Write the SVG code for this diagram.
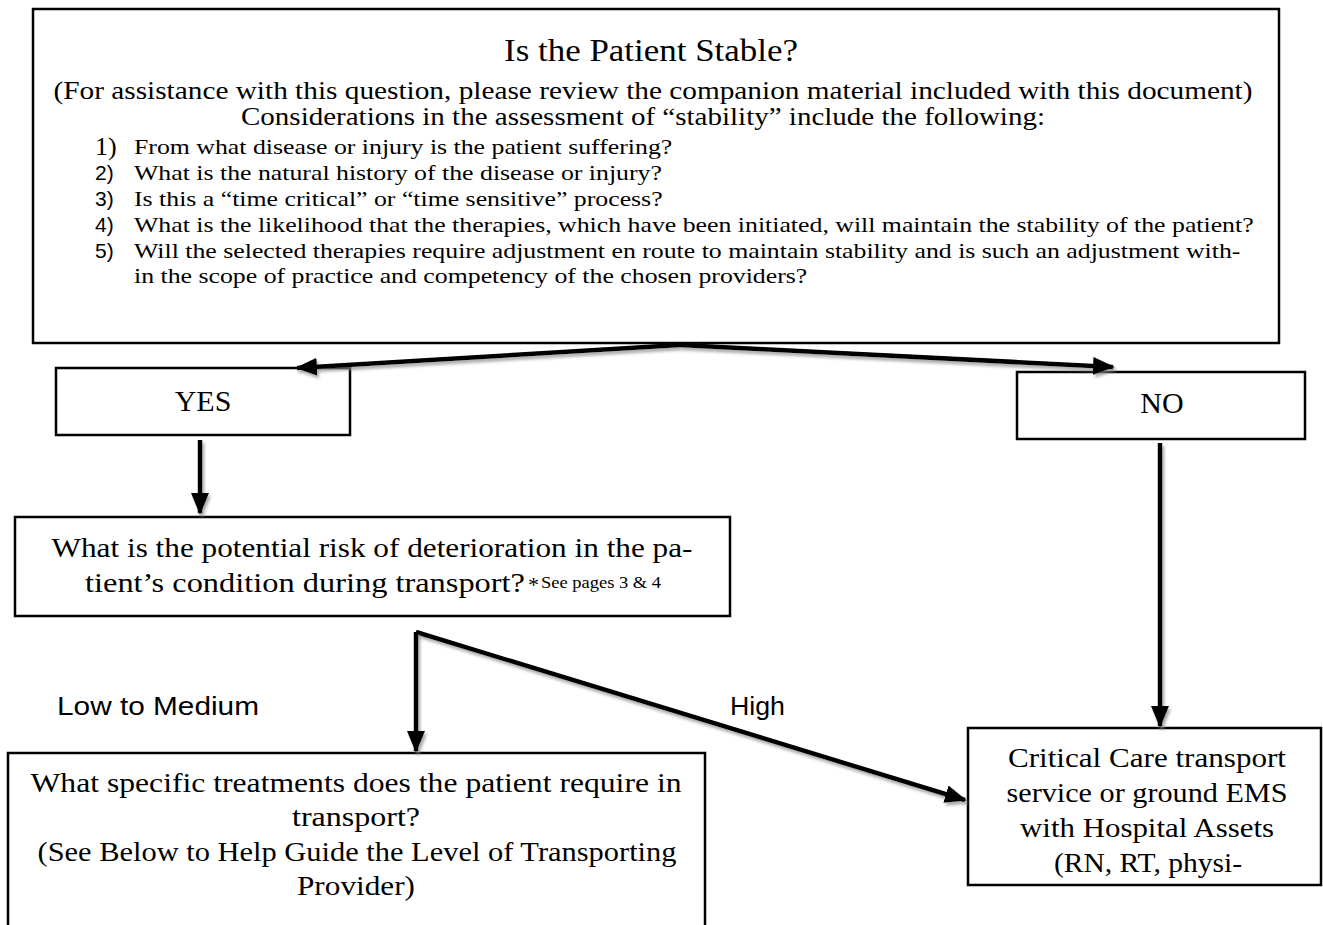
<svg xmlns="http://www.w3.org/2000/svg" width="1323" height="925" viewBox="0 0 1323 925">
<defs>
<style>
.box{fill:#fff;stroke:#000;stroke-width:2.5}
.serif{font-family:"Liberation Serif","DejaVu Serif",serif;fill:#000}
.sans{font-family:"Liberation Sans","DejaVu Sans",sans-serif;fill:#000}
.conn{fill:none;stroke:#000;stroke-width:4.5;filter:url(#sh)}
</style>
<marker id="ah" markerUnits="userSpaceOnUse" markerWidth="22" markerHeight="18" refX="20" refY="9" orient="auto">
<path d="M0,0 L22,9 L0,18 z" fill="#000"/>
</marker>
<filter id="sh" filterUnits="userSpaceOnUse" x="0" y="0" width="1323" height="925">
<feDropShadow dx="2" dy="3" stdDeviation="1.5" flood-color="#888" flood-opacity="0.7"/>
</filter>
</defs>

<g id="node-stable">
<rect class="box" x="33" y="9" width="1246" height="334"/>
<text class="serif" x="651" y="61" font-size="31" text-anchor="middle" textLength="294" lengthAdjust="spacingAndGlyphs">Is the Patient Stable?</text>
<text class="serif" x="653" y="99" font-size="25" text-anchor="middle" textLength="1199" lengthAdjust="spacingAndGlyphs">(For assistance with this question, please review the companion material included with this document)</text>
<text class="serif" x="643" y="125" font-size="25" text-anchor="middle" textLength="804" lengthAdjust="spacingAndGlyphs">Considerations in the assessment of “stability” include the following:</text>
<text class="serif" x="95" y="155" font-size="26">1)</text>
<text class="sans" x="95" y="180" font-size="21">2)</text>
<text class="sans" x="95" y="206" font-size="21">3)</text>
<text class="sans" x="95" y="232" font-size="21">4)</text>
<text class="sans" x="95" y="258" font-size="21">5)</text>
<g transform="translate(134 0) scale(1.173 1)">
<text class="serif" x="0" y="154" font-size="22">From what disease or injury is the patient suffering?</text>
<text class="serif" x="0" y="180" font-size="22">What is the natural history of the disease or injury?</text>
<text class="serif" x="0" y="206" font-size="22">Is this a “time critical” or “time sensitive” process?</text>
<text class="serif" x="0" y="232" font-size="22">What is the likelihood that the therapies, which have been initiated, will maintain the stability of the patient?</text>
<text class="serif" x="0" y="258" font-size="22">Will the selected therapies require adjustment en route to maintain stability and is such an adjustment with-</text>
<text class="serif" x="0" y="283" font-size="22">in the scope of practice and competency of the chosen providers?</text>
</g>
</g>

<g id="node-yes">
<rect class="box" x="56" y="368" width="294" height="67"/>
<text class="serif" x="203" y="411" font-size="30" text-anchor="middle">YES</text>
</g>

<g id="node-no">
<rect class="box" x="1017" y="372" width="288" height="67"/>
<text class="serif" x="1162" y="413" font-size="30" text-anchor="middle">NO</text>
</g>

<g id="node-risk">
<rect class="box" x="15" y="517" width="715" height="99"/>
<text class="serif" x="372" y="557" font-size="28" text-anchor="middle" textLength="641" lengthAdjust="spacingAndGlyphs">What is the potential risk of deterioration in the pa-</text>
<text class="serif" x="85" y="592" font-size="28" textLength="440" lengthAdjust="spacingAndGlyphs">tient’s condition during transport?</text>
<text class="serif" x="528" y="592" font-size="22">*</text>
<text class="serif" x="541" y="588" font-size="16" textLength="120" lengthAdjust="spacingAndGlyphs">See pages 3 &amp; 4</text>
</g>

<g id="node-treatments">
<rect class="box" x="8" y="753" width="697" height="190"/>
<text class="serif" x="356" y="792" font-size="28" text-anchor="middle" textLength="651" lengthAdjust="spacingAndGlyphs">What specific treatments does the patient require in</text>
<text class="serif" x="356" y="826" font-size="28" text-anchor="middle" textLength="128" lengthAdjust="spacingAndGlyphs">transport?</text>
<text class="serif" x="357" y="861" font-size="28" text-anchor="middle" textLength="639" lengthAdjust="spacingAndGlyphs">(See Below to Help Guide the Level of Transporting</text>
<text class="serif" x="356" y="895" font-size="28" text-anchor="middle" textLength="118" lengthAdjust="spacingAndGlyphs">Provider)</text>
</g>

<g id="node-critical">
<rect class="box" x="968" y="728" width="353" height="157"/>
<text class="serif" x="1147" y="767" font-size="28" text-anchor="middle" textLength="278" lengthAdjust="spacingAndGlyphs">Critical Care transport</text>
<text class="serif" x="1147" y="802" font-size="28" text-anchor="middle" textLength="281" lengthAdjust="spacingAndGlyphs">service or ground EMS</text>
<text class="serif" x="1147" y="837" font-size="28" text-anchor="middle" textLength="254" lengthAdjust="spacingAndGlyphs">with Hospital Assets</text>
<text class="serif" x="1148" y="872" font-size="28" text-anchor="middle" textLength="188" lengthAdjust="spacingAndGlyphs">(RN, RT, physi-</text>
</g>

<g id="connectors">
<path class="conn" d="M680,345 L297,368" marker-end="url(#ah)"/>
<path class="conn" d="M680,345 L1113,367" marker-end="url(#ah)"/>
<path class="conn" d="M200,440 L200,513" marker-end="url(#ah)"/>
<path class="conn" d="M1160,443 L1160,726" marker-end="url(#ah)"/>
<path class="conn" d="M416,632 L965,800" marker-end="url(#ah)"/>
<path class="conn" d="M416,632 L416,751" marker-end="url(#ah)"/>
<text class="sans" x="57" y="715" font-size="26" textLength="202" lengthAdjust="spacingAndGlyphs">Low to Medium</text>
<text class="sans" x="730" y="715" font-size="26" textLength="55" lengthAdjust="spacingAndGlyphs">High</text>
</g>
</svg>
